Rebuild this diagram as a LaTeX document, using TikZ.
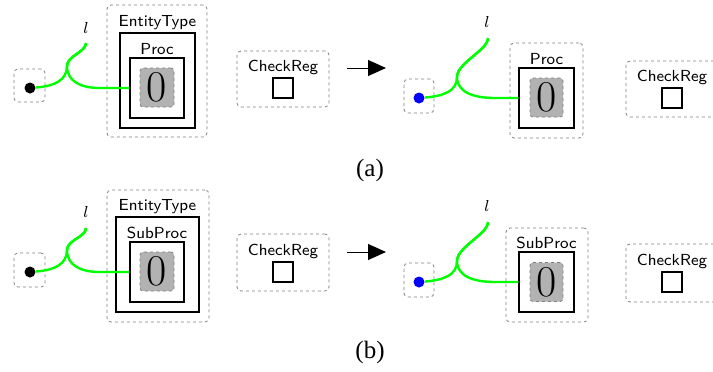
\documentclass[tikz,border=0pt]{standalone}
\usepackage{xcolor}
\usepackage{fontspec}
\newfontfamily\capfont{Liberation Serif}
\usetikzlibrary{arrows.meta,positioning}

\begin{document}
\begin{tikzpicture}[x=0.5pt, y=-0.5pt,
                    >={Triangle[length=9pt,width=8pt]},
                    dbox/.style={draw=gray, line width=0.4pt, dash pattern=on 1.5pt off 1.5pt,
                                 rounded corners=2pt, inner sep=0pt},
                    sbox/.style={draw, line width=0.7pt, inner sep=0pt},
                    gbox/.style={draw=gray, fill=gray!60, line width=0.4pt,
                                 dash pattern=on 1.5pt off 1.5pt, rounded corners=1.5pt,
                                 inner sep=0pt, font=\fontsize{22pt}{22pt}\selectfont},
                    lbl/.style={font=\sffamily\footnotesize, inner sep=1pt},
                    dot/.style={circle, fill, inner sep=0pt, minimum size=5.5pt},
                    wire/.style={green, line width=1.2pt},
                    captxt/.style={font=\capfont\fontsize{12.5pt}{14pt}\selectfont},
                    every node/.style={font=\small}]
\useasboundingbox (0,0) rectangle (713,371);

%% (a) before
\node[dbox, minimum width=15.5pt, minimum height=16.5pt] (portA) at (29.5,85.5) {};
\node[dot] (dotA) at (30,88) {};
\node[dbox, minimum width=50pt, minimum height=66pt] (entA) at (157,71) {};
\node[sbox, minimum width=37.5pt, minimum height=47.5pt] (etA) at (157.5,80.5) {};
\node[lbl, above=0pt of etA] (etlA) {EntityType};
\node[sbox, minimum width=27pt, minimum height=30pt] (procA) at (157,88) {};
\node[lbl, above=0pt of procA] (proclA) {Proc};
\node[gbox, minimum width=17pt, minimum height=19.5pt] (valA) at (157,87.5) {0};
\node[dbox, minimum width=46pt, minimum height=28pt] (chkA) at (283,79) {};
\node[sbox, minimum size=10pt] (regA) at (283,88) {};
\node[lbl, above=0pt of regA] (chklA) {CheckReg};
\node (lA) at (86,28) {\footnotesize$l$};
\coordinate (topA) at (86,43);
\coordinate (brA) at (67,66);
\draw[wire] (dotA) .. controls +(25,-2) and +(0,14) .. (brA)
                   .. controls +(0,-10) and +(0,9) .. (topA);
\draw[wire] (topA) .. controls +(0,9) and +(0,-10) .. (brA)
                   .. controls +(0,15) and +(-20,0) .. (100,88) -- (procA.west);

\coordinate (arrA0) at (347,68);
\coordinate (arrA1) at (386,68);
\draw[->, line width=0.5pt] (arrA0) -- (arrA1);

%% (a) after
\node[dbox, minimum width=15pt, minimum height=17pt] (portC) at (419,96) {};
\node[dot, fill=blue] (dotC) at (419,98) {};
\node[dbox, minimum width=36.5pt, minimum height=47.5pt] (wrapC) at (546.5,90.5) {};
\node[sbox, minimum width=27.5pt, minimum height=30pt] (procC) at (546.5,98) {};
\node[lbl, above=0pt of procC] (proclC) {Proc};
\node[gbox, minimum width=16.5pt, minimum height=19.5pt] (valC) at (546.5,97.5) {0};
\node[dbox, minimum width=46pt, minimum height=28pt] (chkC) at (672,89) {};
\node[sbox, minimum size=10pt] (regC) at (672,98) {};
\node[lbl, above=0pt of regC] (chklC) {CheckReg};
\node (lC) at (487,22) {\footnotesize$l$};
\coordinate (topC) at (488,38);
\coordinate (brC) at (457,77);
\draw[wire] (dotC) .. controls +(25,-2) and +(0,14) .. (brC)
                   .. controls +(0,-14) and +(0,12) .. (topC);
\draw[wire] (topC) .. controls +(0,12) and +(0,-14) .. (brC)
                   .. controls +(0,15) and +(-22,0) .. (495,98) -- (procC.west);

\node[captxt] (capA) at (370,170) {(a)};

%% (b) before
\node[dbox, minimum width=15.5pt, minimum height=17pt] (portB) at (29.5,270) {};
\node[dot] (dotB) at (30,272) {};
\node[dbox, minimum width=51pt, minimum height=66pt] (entB) at (158,256) {};
\node[sbox, minimum width=41.5pt, minimum height=47.5pt] (etB) at (157.5,264.5) {};
\node[lbl, above=0pt of etB] (etlB) {EntityType};
\node[sbox, minimum width=27pt, minimum height=30pt] (subB) at (157,272) {};
\node[lbl, above=0pt of subB] (sublB) {SubProc};
\node[gbox, minimum width=17pt, minimum height=19.5pt] (valB) at (157,271.5) {0};
\node[dbox, minimum width=46pt, minimum height=28.5pt] (chkB) at (283,262.5) {};
\node[sbox, minimum size=10pt] (regB) at (283,272) {};
\node[lbl, above=0pt of regB] (chklB) {CheckReg};
\node (lB) at (86,212) {\footnotesize$l$};
\coordinate (topB) at (86,228);
\coordinate (brB) at (67,250);
\draw[wire] (dotB) .. controls +(25,-2) and +(0,14) .. (brB)
                   .. controls +(0,-10) and +(0,9) .. (topB);
\draw[wire] (topB) .. controls +(0,9) and +(0,-10) .. (brB)
                   .. controls +(0,15) and +(-20,0) .. (100,272) -- (subB.west);

\coordinate (arrB0) at (347,252);
\coordinate (arrB1) at (386,252);
\draw[->, line width=0.5pt] (arrB0) -- (arrB1);

%% (b) after
\node[dbox, minimum width=15pt, minimum height=17pt] (portD) at (419,280) {};
\node[dot, fill=blue] (dotD) at (419,282) {};
\node[dbox, minimum width=41pt, minimum height=47pt] (wrapD) at (547,275) {};
\node[sbox, minimum width=27.5pt, minimum height=30pt] (subD) at (546.5,282) {};
\node[lbl, above=0pt of subD] (sublD) {SubProc};
\node[gbox, minimum width=16.5pt, minimum height=19.5pt] (valD) at (546.5,282) {0};
\node[dbox, minimum width=46pt, minimum height=29pt] (chkD) at (672,273) {};
\node[sbox, minimum size=10pt] (regD) at (672,282) {};
\node[lbl, above=0pt of regD] (chklD) {CheckReg};
\node (lD) at (487,206) {\footnotesize$l$};
\coordinate (topD) at (488,222);
\coordinate (brD) at (457,261);
\draw[wire] (dotD) .. controls +(25,-2) and +(0,14) .. (brD)
                   .. controls +(0,-14) and +(0,12) .. (topD);
\draw[wire] (topD) .. controls +(0,12) and +(0,-14) .. (brD)
                   .. controls +(0,15) and +(-22,0) .. (495,282) -- (subD.west);

\node[captxt] (capB) at (370,352) {(b)};
\end{tikzpicture}
\end{document}
